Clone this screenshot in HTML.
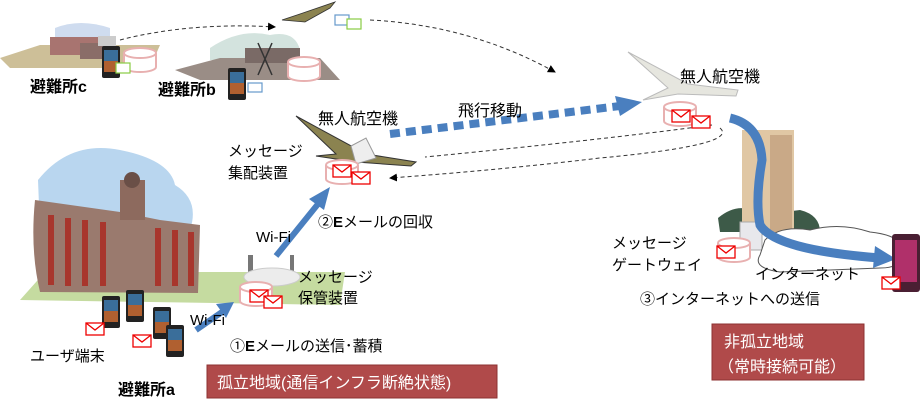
<!DOCTYPE html>
<html><head><meta charset="utf-8"><style>
html,body{margin:0;padding:0;background:#fff;width:924px;height:412px;overflow:hidden}
svg text{font-family:"Liberation Sans","Noto Sans CJK JP",sans-serif;fill:#000}
</style></head><body>
<svg width="924" height="412" viewBox="0 0 924 412" xmlns="http://www.w3.org/2000/svg">
<defs>
<marker id="ah" markerWidth="8" markerHeight="8" refX="7" refY="4" orient="auto"><path d="M0,0 L8,4 L0,8 z" fill="#000"/></marker>
<g id="env"><rect x="0" y="0" width="18" height="12" fill="#fff" stroke="#e00" stroke-width="1.3"/><path d="M0,0 L9,7 L18,0" fill="none" stroke="#e00" stroke-width="1.3"/></g>
<g id="db"><path d="M0,5 v14 a16,5 0 0 0 32,0 v-14" fill="#fff" stroke="#e8b0b0" stroke-width="2"/><ellipse cx="16" cy="5" rx="16" ry="5" fill="#fff" stroke="#e8b0b0" stroke-width="2"/></g>
<g id="phone"><rect x="0" y="0" width="18" height="32" rx="2" fill="#222"/><rect x="2" y="4" width="14" height="22" fill="#3a6e9a"/><rect x="2" y="15" width="14" height="11" fill="#b06030"/></g>
<g id="plane"><path d="M0,0 L70,38 L120,46 L115,50 L60,46 L20,40 L40,38 Z" fill="#8b8350" stroke="#333" stroke-width="1"/><path d="M55,30 L70,22 L80,42 L60,48 Z" fill="#eee" stroke="#999"/></g>
</defs>

<!-- Shelter c -->
<path d="M55,28 Q80,18 110,28 L110,45 L55,45 Z" fill="#cfdcef"/>
<path d="M0,58 L40,45 L160,45 L150,68 L10,68 Z" fill="#cdbf98"/>
<rect x="50" y="37" width="60" height="18" fill="#a87470"/>
<rect x="80" y="43" width="30" height="16" fill="#8a6d68"/>
<rect x="98" y="36" width="18" height="10" fill="#ccc"/>
<use href="#phone" x="102" y="46"/>
<use href="#db" x="124" y="48"/>
<rect x="116" y="63" width="14" height="10" fill="#fff" stroke="#8c4" stroke-width="1.2"/>
<text x="30" y="92" font-size="16" font-weight="bold">避難所c</text>

<!-- Shelter b -->
<path d="M210,48 Q240,28 270,35 Q295,30 300,50 L300,60 L210,60 Z" fill="#d3e3de"/>
<path d="M175,70 L220,58 L320,58 L340,80 L200,80 Z" fill="#9a8d86"/>
<rect x="245" y="48" width="55" height="15" fill="#7a6a66"/>
<path d="M258,43 L272,75 M272,43 L258,75" stroke="#333" stroke-width="1.5"/>
<use href="#phone" x="228" y="68"/>
<use href="#db" x="288" y="57"/>
<rect x="248" y="83" width="14" height="9" fill="#fff" stroke="#69c" stroke-width="1.2"/>
<text x="158" y="95" font-size="16" font-weight="bold">避難所b</text>

<!-- small drone top -->
<path d="M282,20 L300,14 L335,2 L330,8 L312,18 L305,22 Z" fill="#8b8350" stroke="#333" stroke-width="0.8"/>
<rect x="335" y="15" width="14" height="10" fill="#fff" stroke="#69c" stroke-width="1.2"/>
<rect x="347" y="19" width="14" height="10" fill="#fff" stroke="#8c4" stroke-width="1.2"/>

<!-- dashed connectors -->
<path d="M120,40 Q190,22 275,27" fill="none" stroke="#333" stroke-width="1" stroke-dasharray="4,3" marker-end="url(#ah)"/>
<path d="M370,20 Q470,25 555,72" fill="none" stroke="#333" stroke-width="1" stroke-dasharray="4,3" marker-end="url(#ah)"/>
<path d="M712,125 Q600,140 425,157" fill="none" stroke="#333" stroke-width="1" stroke-dasharray="4,3"/>
<path d="M720,128 Q740,145 600,158 Q500,170 390,178" fill="none" stroke="#333" stroke-width="1" stroke-dasharray="4,3" marker-end="url(#ah)"/>

<!-- mid drone -->
<g transform="translate(296,116)"><use href="#plane"/></g>
<use href="#db" x="326" y="160"/>
<use href="#env" x="333" y="165"/><use href="#env" x="352" y="172"/>
<text x="318" y="124" font-size="16">無人航空機</text>
<text x="228" y="156" font-size="15">メッセージ</text>
<text x="228" y="178" font-size="15">集配装置</text>

<!-- flight arrow -->
<path d="M390,134 L620,106" stroke="#4a7fbf" stroke-width="8" stroke-dasharray="10,6"/>
<path d="M615,96 L642,102 L620,116 Z" fill="#4a7fbf"/>
<text x="458" y="116" font-size="16">飛行移動</text>

<!-- right drone -->
<g transform="translate(628,52)"><path d="M0,0 L60,32 L110,38 L108,44 L50,42 L15,48 L40,36 Z" fill="#e6e6df" stroke="#bbb"/></g>
<use href="#db" x="664" y="102"/>
<use href="#env" x="672" y="110"/><use href="#env" x="692" y="116"/>
<text x="680" y="82" font-size="16">無人航空機</text>

<!-- tower -->
<path d="M718,218 Q740,200 760,215 L800,210 Q820,215 820,232 L720,232 Z" fill="#3d5a48"/>
<rect x="742" y="130" width="52" height="105" fill="#e0c7a4"/>
<rect x="770" y="135" width="22" height="100" fill="#c9a987"/>
<rect x="740" y="222" width="22" height="28" fill="#e8e8ec" stroke="#aaa"/>
<!-- cloud -->
<path d="M765,240 Q780,225 810,230 Q840,222 870,232 Q900,235 905,250 Q905,268 880,268 L780,272 Q752,268 760,255 Z" fill="#fff" stroke="#555" stroke-width="1"/>
<use href="#db" x="718" y="238"/>
<use href="#env" x="717" y="246"/>
<!-- big curve -->
<path d="M730,118 Q760,125 762,160 Q755,200 760,225 Q775,250 880,258" fill="none" stroke="#4a7fbf" stroke-width="9"/>
<path d="M875,246 L896,259 L873,268 Z" fill="#4a7fbf"/>
<!-- right phone -->
<rect x="892" y="234" width="28" height="58" rx="3" fill="#4a1f33"/>
<rect x="895" y="240" width="22" height="42" fill="#b0306a"/>
<use href="#env" x="882" y="277"/>
<text x="612" y="248" font-size="15">メッセージ</text>
<text x="612" y="270" font-size="15">ゲートウェイ</text>
<text x="755" y="279" font-size="15">インターネット</text>
<text x="640" y="304" font-size="15">③インターネットへの送信</text>
<rect x="712" y="324" width="152" height="56" fill="#b04a4a" stroke="#8d3232"/>
<text x="724" y="347" font-size="16" style="fill:#fff">非孤立地域</text>
<text x="718" y="372" font-size="16" style="fill:#fff">（常時接続可能）</text>

<!-- left big building -->
<path d="M38,180 Q70,140 120,150 Q170,160 175,185 Q200,200 190,230 L40,230 Z" fill="#b9d6ef"/>
<path d="M20,300 L45,272 L345,272 L340,305 Z" fill="#c5dba0"/>
<path d="M35,200 L120,212 L160,220 L200,225 L198,293 L40,292 Q30,250 35,200 Z" fill="#9a7a6e"/>
<rect x="120" y="180" width="25" height="40" fill="#8d6a5e"/>
<circle cx="132" cy="180" r="8" fill="#6a4f47"/>
<g fill="#a8362d">
<rect x="48" y="215" width="6" height="70"/><rect x="65" y="218" width="6" height="68"/><rect x="82" y="220" width="6" height="66"/><rect x="100" y="222" width="6" height="64"/><rect x="155" y="228" width="6" height="58"/><rect x="172" y="230" width="6" height="56"/><rect x="188" y="232" width="6" height="54"/>
</g>
<!-- phones -->
<use href="#phone" x="102" y="296"/><use href="#phone" x="126" y="290"/><use href="#phone" x="153" y="307"/><use href="#phone" x="166" y="325"/>
<use href="#env" x="86" y="323"/><use href="#env" x="133" y="335"/>
<text x="30" y="361" font-size="15">ユーザ端末</text>
<text x="118" y="395" font-size="16" font-weight="bold">避難所a</text>

<!-- router -->
<rect x="248" y="255" width="5" height="18" fill="#777"/><rect x="290" y="255" width="4" height="18" fill="#777"/>
<ellipse cx="272" cy="277" rx="28" ry="9" fill="#ececec" stroke="#ccc"/>
<use href="#db" x="240" y="282"/>
<use href="#env" x="250" y="290"/><use href="#env" x="264" y="296"/>
<text x="298" y="282" font-size="15">メッセージ</text>
<text x="298" y="303" font-size="15">保管装置</text>

<!-- wifi arrows -->
<path d="M196,330 L222,312" stroke="#4a7fbf" stroke-width="6"/>
<path d="M216,304 L234,302 L226,318 Z" fill="#4a7fbf"/>
<path d="M276,256 L318,204" stroke="#4a7fbf" stroke-width="6"/>
<path d="M309,199 L330,187 L324,210 Z" fill="#4a7fbf"/>
<text x="190" y="325" font-size="15">Wi-Fi</text>
<text x="256" y="242" font-size="15">Wi-Fi</text>
<text x="318" y="227" font-size="15">②<tspan font-weight="bold">E</tspan>メールの回収</text>
<text x="230" y="351" font-size="15">①<tspan font-weight="bold">E</tspan>メールの送信･蓄積</text>
<rect x="207" y="365" width="290" height="33" fill="#b04a4a" stroke="#8d3232"/>
<text x="217" y="388" font-size="16" style="fill:#fff">孤立地域(通信インフラ断絶状態)</text>
</svg>
</body></html>
